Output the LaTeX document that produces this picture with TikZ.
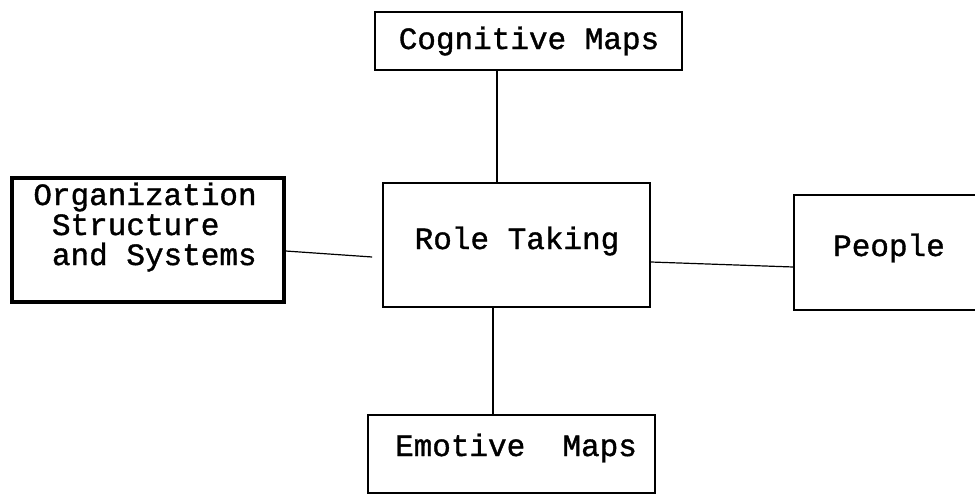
\documentclass[tikz,border=0pt]{standalone}
\usepackage{fontspec}
\newfontfamily\twfont[FakeBold=1.2]{Liberation Mono}
\begin{document}
\begin{tikzpicture}[x=1pt,y=-1pt,
  box/.style={draw,line width=1.6pt,inner sep=0pt,rectangle},
  thickbox/.style={draw,line width=3.2pt,inner sep=0pt,rectangle},
  lbl/.style={inner sep=0pt,font=\twfont\fontsize{31}{30}\selectfont},
  conn/.style={line width=1.2pt}]
\useasboundingbox (0,0) rectangle (975,495);
\clip (0,0) rectangle (975,495);
% boxes
\node[box,minimum width=307pt,minimum height=58pt] (cog) at (528.5,41) {};
\node[box,minimum width=267pt,minimum height=124pt] (role) at (516.5,245) {};
\node[thickbox,minimum width=272pt,minimum height=124pt] (org) at (148,240) {};
\node[box,minimum width=190pt,minimum height=115pt] (people) at (889,252.5) {};
\node[box,minimum width=287pt,minimum height=78pt] (emo) at (511.5,454) {};
% texts
\node[lbl] (cogt) at (529,41) {Cognitive Maps};
\node[lbl] (rolet) at (517,241) {Role Taking};
\node[lbl,align=left] (orgt) at (145,227) {Organization\\\ Structure\\\ and Systems};
\node[lbl] (peoplet) at (889,248) {People};
\node[lbl] (emot) at (516,448) {Emotive\ \ Maps};
% connectors
\coordinate (v1) at (497,0);
\coordinate (v2) at (493,0);
\draw[conn] (v1 |- cog.south) -- (v1 |- role.north);
\draw[conn] (v2 |- role.south) -- (v2 |- emo.north);
\draw[conn] ([yshift=-11pt]org.east) -- ([xshift=-10pt,yshift=-12pt]role.west);
\draw[conn] ([yshift=-17pt]role.east) -- ([yshift=-14.5pt]people.west);
\end{tikzpicture}
\end{document}
